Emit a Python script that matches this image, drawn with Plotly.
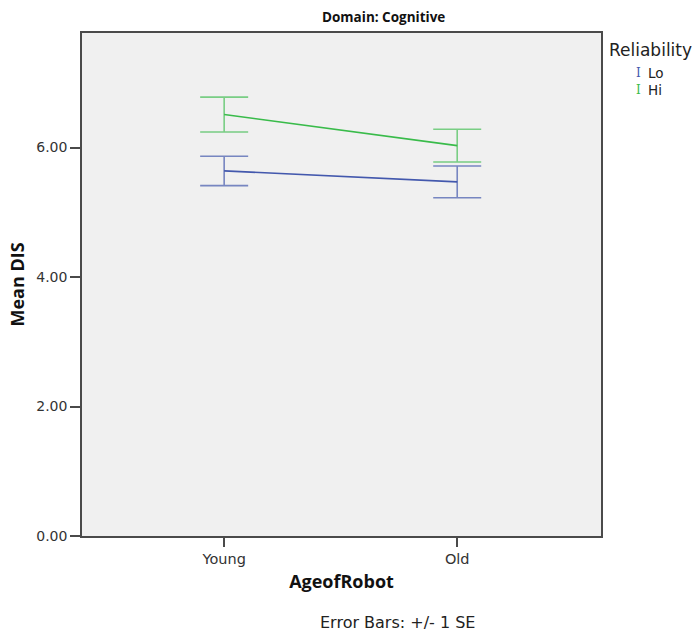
import plotly.graph_objects as go

categories = ["Young", "Old"]
series_names = ["Lo", "Hi"]
lo_means = [5.64, 5.47]
lo_se = [0.227, 0.245]
hi_means = [6.51, 6.03]
hi_se = [0.27, 0.253]
y_ticks = [0, 2, 4, 6]

colors = {"Lo": "#4358ad", "Hi": "#39bb4a"}
err_colors = {"Lo": "rgba(67,88,173,0.7)", "Hi": "rgba(57,187,74,0.65)"}

fig = go.Figure()
for name, means, se in [("Lo", lo_means, lo_se), ("Hi", hi_means, hi_se)]:
    fig.add_trace(go.Scatter(
        x=categories, y=means, mode="lines", name=name,
        line=dict(color=colors[name], width=1.6),
        error_y=dict(type="data", array=se, visible=True,
                     color=err_colors[name], thickness=1.6, width=24),
        showlegend=False,
    ))

W, H = 692, 633
L, R, T, B = 82, 91, 33, 97

fig.update_layout(
    width=W, height=H,
    margin=dict(l=L, r=R, t=T, b=B, pad=0),
    paper_bgcolor="white",
    plot_bgcolor="#f0f0f0",
    font=dict(family="DejaVu Sans", color="#333333"),
    xaxis=dict(
        type="category", range=[-0.61, 1.617],
        showline=True, mirror=True, linecolor="#4a4a4a", linewidth=1.6,
        ticks="outside", ticklen=9, tickwidth=1.5, tickcolor="#4a4a4a",
        tickfont=dict(family="DejaVu Sans", size=14.5, color="#333"),
        showgrid=False, zeroline=False,
        title=dict(text="<b>AgeofRobot</b>", font=dict(family="Open Sans", size=18, color="#111"), standoff=9),
    ),
    yaxis=dict(
        range=[0, 7.77],
        tickvals=y_ticks, tickformat=".2f",
        showline=True, mirror=True, linecolor="#4a4a4a", linewidth=1.6,
        ticks="outside", ticklen=10, tickwidth=1.5, tickcolor="#4a4a4a",
        tickfont=dict(family="DejaVu Sans", size=14, color="#333"),
        showgrid=False, zeroline=False,
        title=dict(text="<b>Mean DIS</b>", font=dict(family="Open Sans", size=18, color="#111"), standoff=7),
    ),
)

anns = [
    dict(text="<b>Domain: Cognitive</b>", x=383, y=H - 17, font=dict(family="Open Sans", size=13.5, color="#111")),
    dict(text="Error Bars: +/- 1 SE", x=397, y=H - 622, font=dict(family="DejaVu Sans", size=16, color="#222")),
    dict(text="Reliability", x=650, y=H - 50, font=dict(family="DejaVu Sans", size=17, color="#222")),
]
leg_y = [73, 90]
for i, name in enumerate(series_names):
    anns.append(dict(text="I", x=638, y=H - leg_y[i], font=dict(family="DejaVu Serif", size=12, color=colors[name])))
    anns.append(dict(text=name, x=646, y=H - leg_y[i], xanchor="left", font=dict(family="DejaVu Sans", size=13.5, color="#222")))

for a in anns:
    a.setdefault("xanchor", "center")
    fig.add_annotation(xref="paper", yref="paper", showarrow=False,
                       x=(a.pop("x") - L) / (W - L - R), y=(a.pop("y") - B) / (H - T - B),
                       yanchor="middle", **a)

fig.write_html("out.html")
